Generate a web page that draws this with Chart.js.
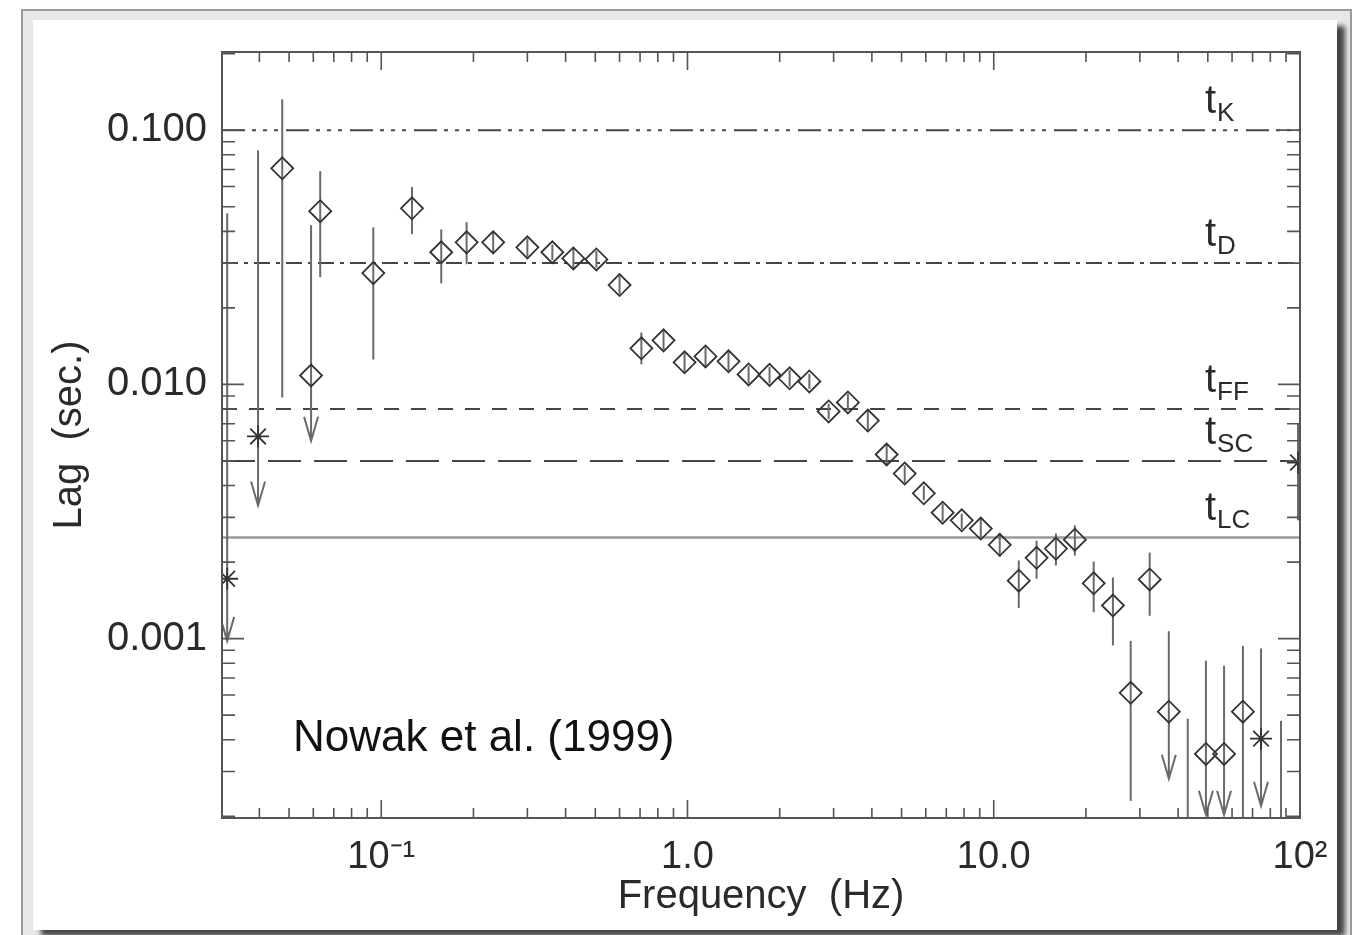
<!DOCTYPE html>
<html>
<head>
<meta charset="utf-8">
<script src="https://cdn.jsdelivr.net/npm/chart.js@4"></script>
<style>
  html, body { margin: 0; padding: 0; background: #fff; }
  #frame { position: absolute; left: 21px; top: 9px; width: 1331px; height: 940px;
           border: 2px solid #9a9a9a; background: #e8e8e8; box-sizing: border-box; }
  #panel { position: absolute; left: 33px; top: 20px; width: 1304px; height: 910px;
           background: #fff; box-shadow: 8px 6px 5px rgba(0,0,0,0.7); }
  #wrap { position: absolute; left: 0; top: 0; width: 1356px; height: 935px; }
</style>
</head>
<body>
<div id="frame"></div>
<div id="panel"></div>
<div id="wrap"><canvas id="lagChart"></canvas></div>
<script>
// frequency (Hz) and lag (s)
const freqs = [0.0314, 0.0396, 0.0475, 0.0590, 0.0632, 0.0942, 0.126, 0.157, 0.190, 0.232,
  0.300, 0.362, 0.424, 0.504, 0.600, 0.707, 0.835, 0.978, 1.145, 1.361,
  1.583, 1.853, 2.155, 2.50, 2.89, 3.34, 3.88, 4.47, 5.12, 5.91,
  6.81, 7.86, 9.07, 10.46, 12.07, 13.8, 15.96, 18.4, 21.2, 24.5,
  28.0, 32.3, 37.3, 43.0, 49.3, 56.5, 65.1, 74.6, 86.7, 98.5];
const lags = [0.00172, 0.00624, 0.0708, 0.01084, 0.048, 0.0274, 0.0493, 0.0331, 0.0362, 0.0362,
  0.0346, 0.0331, 0.0313, 0.0310, 0.0246, 0.01387, 0.0149, 0.01222, 0.01288, 0.01233,
  0.01094, 0.0109, 0.01057, 0.01027, 0.00783, 0.00849, 0.00721, 0.0053, 0.00446, 0.00373,
  0.00313, 0.00292, 0.00271, 0.00234, 0.00169, 0.00208, 0.00226, 0.00245, 0.00165, 0.00135,
  0.000612, 0.00171, 0.000516, 0.0001, 0.000352, 0.000352, 0.000516, 0.000404, 0.0001, 0.00493];
const lagHi = [0.0471, 0.0834, 0.1324, 0.0423, 0.069, 0.0415, 0.0597, 0.0407, 0.0435, 0.0395,
  0.0375, 0.0355, 0.0345, 0.0335, 0.0268, 0.0160, 0.0163, 0.0133, 0.0140, 0.0135,
  0.0118, 0.0117, 0.0114, 0.0110, 0.0084, 0.0092, 0.0080, 0.0058, 0.0048, 0.0040,
  0.0034, 0.0031, 0.0030, 0.0026, 0.00203, 0.00243, 0.00259, 0.00279, 0.00201, 0.00174,
  0.00098, 0.00218, 0.00107, 0.000484, 0.000818, 0.000783, 0.000937, 0.000914, 0.000475, 0.00702];
const lagLo = [0.00098, 0.00334, 0.00889, 0.0060, 0.0264, 0.01253, 0.039, 0.025, 0.0297, 0.0330,
  0.0318, 0.0308, 0.0282, 0.0288, 0.0226, 0.0120, 0.0137, 0.0112, 0.0118, 0.0113,
  0.0101, 0.0101, 0.0098, 0.0096, 0.0073, 0.0079, 0.0065, 0.0048, 0.0041, 0.0035,
  0.0029, 0.0027, 0.0025, 0.0021, 0.00132, 0.00172, 0.00194, 0.00212, 0.00127, 0.00094,
  0.00023, 0.00123, 0.000281, 0.0001, 0.000203, 0.000203, 0.0001, 0.00022, 0.0001, 0.00292];
// 1 = upper limit (arrow at the low end)
const upperLimit = [1, 1, 0, 1, 0, 0, 0, 0, 0, 0, 0, 0, 0, 0, 0, 0, 0, 0, 0, 0,
  0, 0, 0, 0, 0, 0, 0, 0, 0, 0, 0, 0, 0, 0, 0, 0, 0, 0, 0, 0,
  0, 0, 1, 0, 1, 1, 0, 1, 0, 0];
// d = diamond, s = asterisk, n = no symbol
const symbols = ['s', 's', 'd', 'd', 'd', 'd', 'd', 'd', 'd', 'd', 'd', 'd', 'd', 'd', 'd', 'd', 'd', 'd', 'd', 'd',
  'd', 'd', 'd', 'd', 'd', 'd', 'd', 'd', 'd', 'd', 'd', 'd', 'd', 'd', 'd', 'd', 'd', 'd', 'd', 'd',
  'd', 'd', 'd', 'n', 'd', 'd', 'd', 's', 'n', 's'];

const refLags = [0.1, 0.03, 0.008, 0.005, 0.0025];
const refSubs = ['K', 'D', 'FF', 'SC', 'LC'];

const xTicks = [0.1, 1, 10, 100];
const xTickLabels = ['10⁻¹', '1.0', '10.0', '10²'];
const yTicks = [0.001, 0.01, 0.1];
const yTickLabels = ['0.001', '0.010', '0.100'];

const X_MIN = 0.0302, X_MAX = 100, Y_MIN = 0.000197, Y_MAX = 0.203;
const FONT = "'Liberation Sans', Arial, sans-serif";
const INK = '#2a2a2a';

const refDashes = [[23, 7, 4, 7, 4, 7, 4, 8], [16, 6, 4, 6], [15, 12], [33, 13], []];
const refDatasets = refLags.map((v, k) => ({
  type: 'line',
  data: [{ x: X_MIN, y: v }, { x: X_MAX, y: v }],
  borderColor: k === 4 ? '#9a9a9a' : '#454545',
  borderWidth: k === 4 ? 2.5 : 2,
  borderDash: refDashes[k],
  pointRadius: 0,
  order: 1
}));

function drawPlotDecor(chart) {
  const { ctx, chartArea: a, scales: { x, y } } = chart;
  ctx.save();
  ctx.strokeStyle = '#555';
  ctx.lineWidth = 2;
  ctx.strokeRect(a.left, a.top, a.right - a.left, a.bottom - a.top);
  ctx.lineWidth = 1.6;
  ctx.beginPath();
  for (let e = -2; e <= 2; e++) {
    for (let m = 1; m <= 9; m++) {
      const v = m * Math.pow(10, e);
      if (v < X_MIN || v > X_MAX) continue;
      const px = x.getPixelForValue(v);
      const len = m === 1 ? 18 : 10;
      ctx.moveTo(px, a.bottom); ctx.lineTo(px, a.bottom - len);
      ctx.moveTo(px, a.top); ctx.lineTo(px, a.top + len);
    }
  }
  for (let e = -4; e <= 0; e++) {
    for (let m = 1; m <= 9; m++) {
      const v = m * Math.pow(10, e);
      if (v < Y_MIN || v > Y_MAX) continue;
      const py = y.getPixelForValue(v);
      const len = m === 1 ? 22 : 13;
      ctx.moveTo(a.left, py); ctx.lineTo(a.left + len, py);
      ctx.moveTo(a.right, py); ctx.lineTo(a.right - len, py);
    }
  }
  ctx.stroke();

  // reference-line labels
  ctx.fillStyle = INK;
  ctx.textAlign = 'left';
  ctx.textBaseline = 'alphabetic';
  refLags.forEach((v, k) => {
    const py = y.getPixelForValue(v);
    const tx = 1205;
    ctx.font = '40px ' + FONT;
    ctx.fillText('t', tx, py - 17);
    const w = ctx.measureText('t').width;
    ctx.font = '26px ' + FONT;
    ctx.fillText(refSubs[k], tx + w + 1, py - 9);
  });

  ctx.fillStyle = '#111';
  ctx.font = '44px ' + FONT;
  ctx.fillText('Nowak et al. (1999)', 293, 751);
  ctx.restore();
}

const decorPlugin = {
  id: 'decor',
  beforeDatasetDraw(chart, args) {
    if (args.index !== 0) return;
    const { ctx, chartArea: a, scales: { x, y } } = chart;
    ctx.save();
    ctx.beginPath();
    ctx.rect(a.left, a.top, a.right - a.left, a.bottom - a.top);
    ctx.clip();
    ctx.strokeStyle = '#6a6a6a';
    ctx.lineWidth = 2;
    freqs.forEach((f, i) => {
      const px = x.getPixelForValue(f);
      const yHi = y.getPixelForValue(lagHi[i]);
      const yLo = y.getPixelForValue(lagLo[i]);
      ctx.beginPath();
      ctx.moveTo(px, yHi);
      ctx.lineTo(px, yLo);
      if (upperLimit[i]) {
        ctx.moveTo(px - 7, yLo - 24);
        ctx.lineTo(px, yLo);
        ctx.lineTo(px + 7, yLo - 24);
      }
      ctx.stroke();
    });
    ctx.restore();
  },
  afterDatasetsDraw(chart) {
    drawPlotDecor(chart);
  }
};

new Chart(document.getElementById('lagChart').getContext('2d'), {
  type: 'scatter',
  data: {
    datasets: [
      {
        data: freqs.map((f, i) => ({ x: f, y: lags[i] })),
        pointStyle: symbols.map(s => (s === 's' ? 'star' : 'rectRot')),
        pointRadius: symbols.map(s => (s === 'n' ? 0 : 11)),
        pointBorderColor: '#333',
        pointBackgroundColor: 'rgba(0,0,0,0)',
        pointBorderWidth: 1.8,
        clip: 0,
        order: 0
      },
      ...refDatasets
    ]
  },
  options: {
    responsive: true,
    maintainAspectRatio: false,
    animation: false,
    layout: { padding: { left: 0, top: 52, right: 56, bottom: 0 } },
    plugins: { legend: { display: false }, tooltip: { enabled: false } },
    scales: {
      x: {
        type: 'logarithmic',
        min: X_MIN,
        max: X_MAX,
        grid: { display: false },
        border: { display: false },
        afterBuildTicks: s => { s.ticks = xTicks.map(v => ({ value: v })); },
        afterFit: s => { s.height = 117; },
        ticks: {
          color: INK,
          font: { family: FONT, size: 38 },
          padding: 9,
          maxRotation: 0,
          autoSkip: false,
          callback: v => xTickLabels[xTicks.indexOf(v)]
        },
        title: {
          display: true,
          text: 'Frequency  (Hz)',
          color: INK,
          font: { family: FONT, size: 40 },
          padding: { top: 0, bottom: 14 }
        }
      },
      y: {
        type: 'logarithmic',
        min: Y_MIN,
        max: Y_MAX,
        grid: { display: false },
        border: { display: false },
        afterBuildTicks: s => { s.ticks = yTicks.map(v => ({ value: v })); },
        afterFit: s => { s.width = 222; },
        ticks: {
          color: INK,
          font: { family: FONT, size: 40 },
          padding: 7,
          autoSkip: false,
          callback: v => yTickLabels[yTicks.indexOf(v)]
        },
        title: {
          display: true,
          text: 'Lag  (sec.)',
          color: INK,
          font: { family: FONT, size: 40 },
          padding: { top: 46, bottom: 0 }
        }
      }
    }
  },
  plugins: [decorPlugin]
});
</script>
</body>
</html>
